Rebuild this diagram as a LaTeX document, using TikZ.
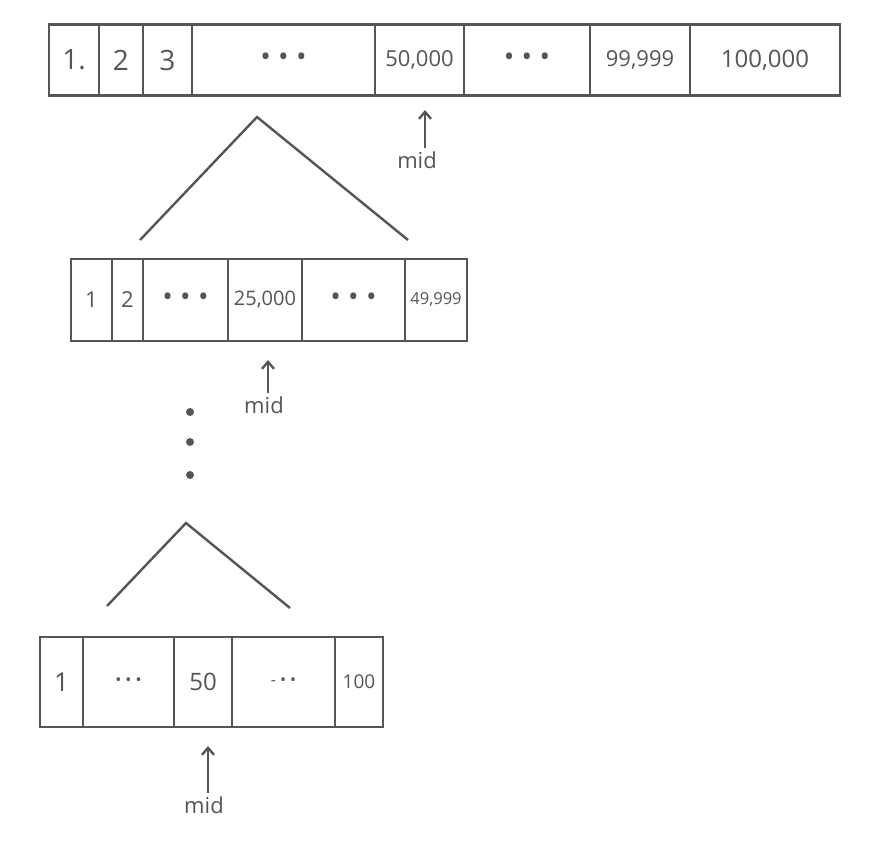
\documentclass[tikz,border=0pt]{standalone}
\usepackage{fontspec}
\setmainfont{Open Sans}
\usetikzlibrary{arrows.meta,calc}
\definecolor{ink}{HTML}{555555}
\tikzset{
  cell/.style={draw=ink, line width=2.6pt, inner sep=0pt, text=ink, anchor=center},
  topcell/.style={cell, minimum height=71pt},
  midcell/.style={cell, minimum height=82pt},
  botcell/.style={cell, minimum height=90pt},
  big/.style={font=\fontsize{28}{30}\selectfont},
  num/.style={font=\fontsize{22}{24}\selectfont},
  mednum/.style={font=\fontsize{20}{22}\selectfont},
  small/.style={font=\fontsize{16.5}{18}\selectfont},
  dots/.style={font=\fontsize{28}{30}\selectfont},
  fewdots/.style={font=\fontsize{16}{18}\selectfont},
  midlabel/.style={text=ink, font=\fontsize{22}{24}\selectfont, inner sep=1pt},
  pointer/.style={draw=ink, line width=2.4pt, -{Straight Barb[length=7pt,width=12pt]}},
  branch/.style={draw=ink, line width=2.4pt},
  vdot/.style={fill=ink, draw=none, circle, minimum size=8pt, inner sep=0pt}
}
\begin{document}
\begin{tikzpicture}[x=1pt,y=-1pt]
\useasboundingbox[fill=white] (0,0) rectangle (869,849);
% top array
\node[topcell, big, minimum width=50pt] (t1) at (74,60) {1.};
\node[topcell, big, minimum width=44pt] (t2) at (121,60) {2};
\node[topcell, big, minimum width=49pt] (t3) at (167.5,60) {3};
\node[topcell, dots, minimum width=183pt] (t4) at (283.5,60) {• • •};
\node[topcell, num, minimum width=89pt] (t5) at (419.5,60) {50,000};
\node[topcell, dots, minimum width=126pt] (t6) at (527,60) {• • •};
\node[topcell, num, minimum width=100pt] (t7) at (640,60) {99,999};
\node[topcell, font=\fontsize{24}{26}\selectfont, minimum width=150pt] (t8) at (765,60) {100,000};
% top pointer
\node[midlabel] (m1) at (417,160) {mid};
\coordinate (p1) at (425,110);
\draw[pointer] (m1.north -| p1) ++(0,-2) -- (p1);
% first split
\coordinate (a1) at (257,117);
\coordinate (l1) at (140,240);
\coordinate (r1) at (408,240);
\draw[branch] (l1) -- (a1) -- (r1);
% middle array
\node[midcell, num, minimum width=41pt] (s1) at (91.5,300) {1};
\node[midcell, num, minimum width=31pt] (s2) at (127.5,300) {2};
\node[midcell, dots, minimum width=85pt] (s3) at (185.5,300) {• • •};
\node[midcell, mednum, minimum width=74pt] (s4) at (265,300) {25,000};
\node[midcell, dots, minimum width=103pt] (s5) at (353.5,300) {• • •};
\node[midcell, small, minimum width=62pt] (s6) at (436,300) {49,999};
% middle pointer
\node[midlabel] (m2) at (264,405) {mid};
\coordinate (p2) at (268,360);
\draw[pointer] (m2.north -| p2) ++(0,-2) -- (p2);
% vertical dots
\node[vdot] (d1) at (190,412) {};
\node[vdot] (d2) at (190,442) {};
\node[vdot] (d3) at (190,475) {};
% second split
\coordinate (a2) at (186,523);
\coordinate (l2) at (107,606);
\coordinate (r2) at (290,608);
\draw[branch] (l2) -- (a2) -- (r2);
% bottom array
\node[botcell, font=\fontsize{26}{28}\selectfont, minimum width=43pt] (b1) at (61.5,682) {1};
\node[botcell, fewdots, minimum width=91pt] (b2) at (128.5,682) {• • •};
\node[botcell, font=\fontsize{24}{26}\selectfont, minimum width=58pt] (b3) at (203,682) {50};
\node[botcell, fewdots, minimum width=103pt] (b4) at (283.5,682) {- • •};
\node[botcell, font=\fontsize{19}{21}\selectfont, minimum width=48pt] (b5) at (359,682) {100};
% bottom pointer
\node[midlabel] (m3) at (204,805) {mid};
\coordinate (p3) at (208,746);
\draw[pointer] (m3.north -| p3) ++(0,-2) -- (p3);
\end{tikzpicture}
\end{document}
